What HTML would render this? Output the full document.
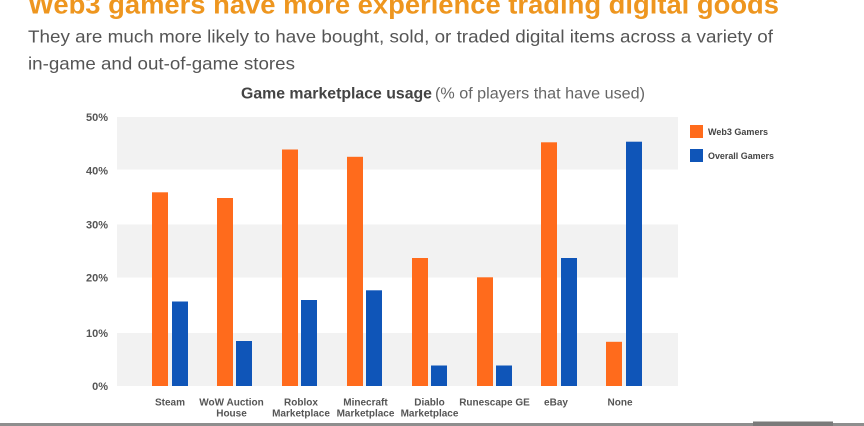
<!DOCTYPE html>
<html>
<head>
<meta charset="utf-8">
<style>
  html, body { margin: 0; padding: 0; background: #ffffff; }
  body { width: 864px; height: 426px; overflow: hidden; }
  svg { display: block; }
  text { font-family: "Liberation Sans", "DejaVu Sans", sans-serif; }
</style>
</head>
<body>
<svg width="864" height="426" viewBox="0 0 864 426" xmlns="http://www.w3.org/2000/svg">
  <rect x="0" y="0" width="864" height="426" fill="#ffffff"/>

  <!-- Title (cut off at top) -->
  <text x="28" y="13.5" font-size="25.5" font-weight="bold" fill="#EE961F" textLength="751" lengthAdjust="spacingAndGlyphs">Web3 gamers have more experience trading digital goods</text>

  <!-- Subtitle -->
  <text x="28" y="42.5" font-size="17.5" fill="#555555" textLength="745" lengthAdjust="spacingAndGlyphs">They are much more likely to have bought, sold, or traded digital items across a variety of</text>
  <text x="28" y="69.5" font-size="17.5" fill="#555555" textLength="267" lengthAdjust="spacingAndGlyphs">in-game and out-of-game stores</text>

  <!-- Chart title -->
  <text x="241" y="98.3" font-size="15.5" font-weight="bold" fill="#444444" textLength="191" lengthAdjust="spacingAndGlyphs">Game marketplace usage</text>
  <text x="435" y="98.3" font-size="15.5" fill="#666666" textLength="210" lengthAdjust="spacingAndGlyphs">(% of players that have used)</text>

  <!-- Bands -->
  <rect x="117" y="117" width="561" height="52.5" fill="#F2F2F2"/>
  <rect x="117" y="224.5" width="561" height="53" fill="#F2F2F2"/>
  <rect x="117" y="333" width="561" height="53" fill="#F2F2F2"/>

  <!-- Y axis labels -->
  <g font-size="11" font-weight="bold" fill="#555555" text-anchor="end">
    <text x="108" y="121">50%</text>
    <text x="108" y="174.5">40%</text>
    <text x="108" y="228.5">30%</text>
    <text x="108" y="281.5">20%</text>
    <text x="108" y="337">10%</text>
    <text x="108" y="390">0%</text>
  </g>

  <!-- Orange bars (Web3 Gamers) -->
  <g fill="#FF6B1C">
    <rect x="152" y="192.3" width="16" height="193.7"/>
    <rect x="217" y="198" width="16" height="188"/>
    <rect x="282" y="149.5" width="16" height="236.5"/>
    <rect x="347" y="156.8" width="16" height="229.2"/>
    <rect x="412" y="258" width="16" height="128"/>
    <rect x="477" y="277.3" width="16" height="108.7"/>
    <rect x="541" y="142.3" width="16" height="243.7"/>
    <rect x="606" y="341.8" width="16" height="44.2"/>
  </g>

  <!-- Blue bars (Overall Gamers) -->
  <g fill="#0F55B8">
    <rect x="172" y="301.5" width="16" height="84.5"/>
    <rect x="236" y="341" width="16" height="45"/>
    <rect x="301" y="300" width="16" height="86"/>
    <rect x="366" y="290.3" width="16" height="95.7"/>
    <rect x="431" y="365.5" width="16" height="20.5"/>
    <rect x="496" y="365.5" width="16" height="20.5"/>
    <rect x="561" y="258" width="16" height="128"/>
    <rect x="626" y="141.7" width="16" height="244.3"/>
  </g>

  <!-- X labels -->
  <g font-size="10" font-weight="bold" fill="#555555" text-anchor="middle">
    <text x="170" y="405.5">Steam</text>
    <text x="231.5" y="405.5">WoW Auction</text>
    <text x="231.5" y="416.5">House</text>
    <text x="301" y="405.5">Roblox</text>
    <text x="301" y="416.5">Marketplace</text>
    <text x="365.5" y="405.5">Minecraft</text>
    <text x="365.5" y="416.5">Marketplace</text>
    <text x="429.5" y="405.5">Diablo</text>
    <text x="429.5" y="416.5">Marketplace</text>
    <text x="494.5" y="405.5">Runescape GE</text>
    <text x="556" y="405.5">eBay</text>
    <text x="620" y="405.5">None</text>
  </g>

  <!-- Legend -->
  <rect x="690" y="125" width="13" height="13" fill="#FF6B1C"/>
  <text x="708" y="135" font-size="9" font-weight="bold" fill="#444444" textLength="60" lengthAdjust="spacingAndGlyphs">Web3 Gamers</text>
  <rect x="690" y="149" width="13" height="13" fill="#0F55B8"/>
  <text x="708" y="159" font-size="9" font-weight="bold" fill="#444444" textLength="66" lengthAdjust="spacingAndGlyphs">Overall Gamers</text>

  <!-- Bottom strip -->
  <rect x="0" y="423" width="864" height="3" fill="#8E8E8E"/>
  <rect x="753" y="421.5" width="80" height="4.5" fill="#7A7A7A"/>
</svg>
</body>
</html>
